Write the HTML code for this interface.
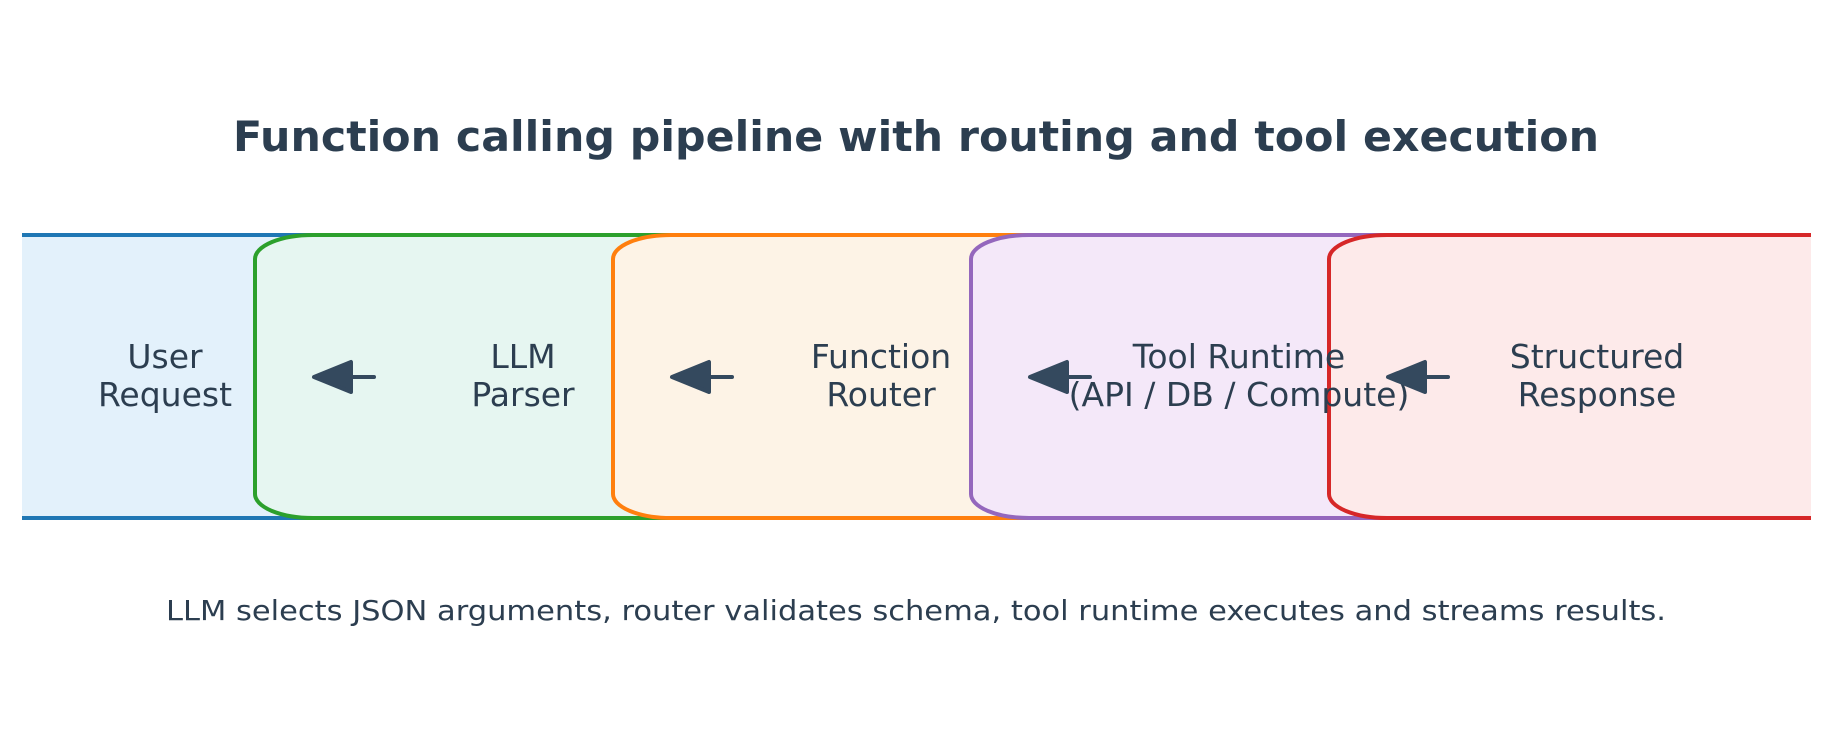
<!DOCTYPE html>
<html><head><meta charset="utf-8"><style>
html,body{margin:0;padding:0;background:#fff;}
svg{display:block;}
text{font-family:"DejaVu Sans","Liberation Sans",sans-serif;fill:#2c3e50;}
</style></head><body>
<svg width="1834" height="755" viewBox="0 0 1834 755" xmlns="http://www.w3.org/2000/svg">
<defs><clipPath id="c"><rect x="22" y="225" width="1789" height="305"/></clipPath></defs>
<text x="916" y="151" text-anchor="middle" font-size="42" font-weight="bold" textLength="1366" lengthAdjust="spacingAndGlyphs">Function calling pipeline with routing and tool execution</text>
<g clip-path="url(#c)" stroke-width="4">
<rect x="-103" y="235" width="536" height="283" rx="58" ry="24" fill="#e3f1fb" stroke="#1f77b4"/>
<rect x="255" y="235" width="536" height="283" rx="58" ry="24" fill="#e6f6f1" stroke="#2ca02c"/>
<rect x="613" y="235" width="536" height="283" rx="58" ry="24" fill="#fdf3e6" stroke="#ff7f0e"/>
<rect x="971" y="235" width="536" height="283" rx="58" ry="24" fill="#f4e8f9" stroke="#9467bd"/>
<rect x="1329" y="235" width="536" height="283" rx="58" ry="24" fill="#fdeaea" stroke="#d62728"/>
</g>
<g font-size="33" text-anchor="middle">
<text x="165" y="368">User</text><text x="165" y="406">Request</text>
<text x="523" y="368">LLM</text><text x="523" y="406">Parser</text>
<text x="881" y="368">Function</text><text x="881" y="406">Router</text>
<text x="1239" y="368">Tool Runtime</text><text x="1239" y="406">(API / DB / Compute)</text>
<text x="1597" y="368">Structured</text><text x="1597" y="406">Response</text>
</g>
<g fill="#34495e" stroke="#34495e" stroke-width="4" stroke-linecap="round" stroke-linejoin="round">
<line x1="352" y1="377" x2="374" y2="377"/><polygon points="314,377 351,362 351,392"/>
<line x1="710" y1="377" x2="732" y2="377"/><polygon points="672,377 709,362 709,392"/>
<line x1="1068" y1="377" x2="1090" y2="377"/><polygon points="1030,377 1067,362 1067,392"/>
<line x1="1426" y1="377" x2="1448" y2="377"/><polygon points="1388,377 1425,362 1425,392"/>
</g>
<text x="916" y="620" text-anchor="middle" font-size="28" fill="#34495e" textLength="1500" lengthAdjust="spacingAndGlyphs">LLM selects JSON arguments, router validates schema, tool runtime executes and streams results.</text>
</svg>
</body></html>
